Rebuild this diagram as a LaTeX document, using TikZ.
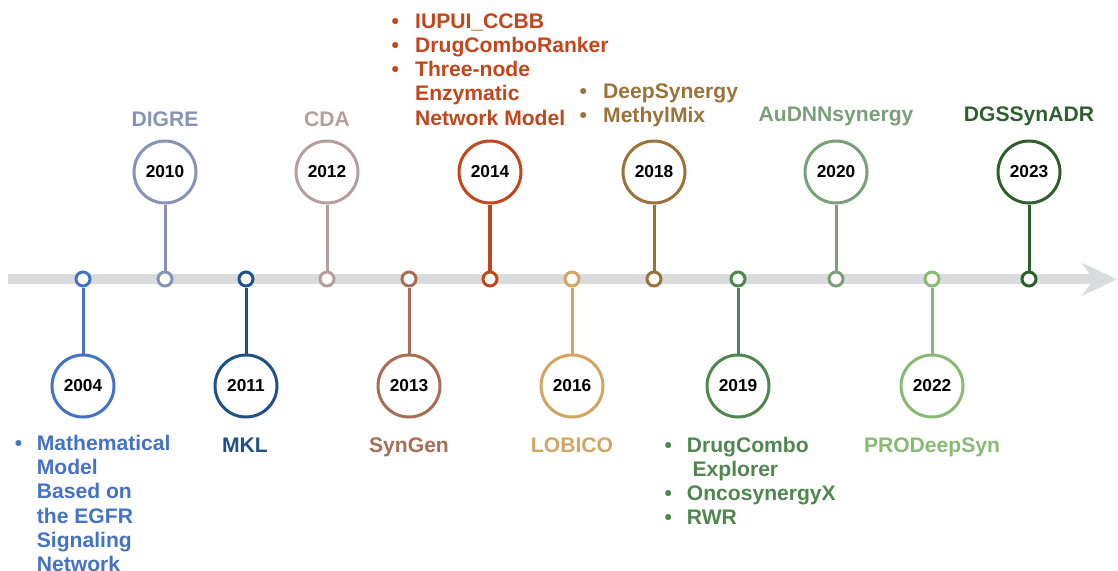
\documentclass[tikz,border=0pt]{standalone}
\usepackage{fontspec}
\setmainfont{Liberation Sans}
\definecolor{barcol}{HTML}{DADBDD}
\definecolor{cA}{HTML}{4472C4}% 2004
\definecolor{cB}{HTML}{8792B6}% 2010
\definecolor{cC}{HTML}{1F5188}% 2011
\definecolor{cD}{HTML}{B59E9E}% 2012
\definecolor{cE}{HTML}{A86E55}% 2013
\definecolor{cF}{HTML}{C2461C}% 2014
\definecolor{cG}{HTML}{D4A562}% 2016
\definecolor{cH}{HTML}{9B733A}% 2018
\definecolor{cI}{HTML}{4F874F}% 2019
\definecolor{cJ}{HTML}{7A9F79}% 2020
\definecolor{cK}{HTML}{88BA74}% 2022
\definecolor{cL}{HTML}{2F5F2F}% 2023
\newcommand{\lblfont}{\fontsize{21.1}{24.3}\selectfont\bfseries}
\newcommand{\lblfontb}{\fontsize{21.1}{24.1}\selectfont\bfseries}
\begin{document}
\begin{tikzpicture}[x=1pt,y=-1pt,
  yearbox/.style={circle,draw=#1,line width=3pt,fill=white,minimum size=62pt,inner sep=0pt,
    font=\fontsize{17.3}{20}\selectfont\bfseries,text=black},
  dotbox/.style={circle,draw=#1,line width=3pt,fill=white,minimum size=14pt,inner sep=0pt},
  stem/.style={draw=#1,line width=3pt},
  lbl/.style={inner sep=0pt,anchor=base,text=#1,font=\lblfont},
  lst/.style={inner sep=0pt,anchor=base west,text=#1,align=left}]
\useasboundingbox (0,0) rectangle (1118,570);
% timeline bar with chevron head
\fill[barcol] (8,274) rectangle (1094,284);
\fill[barcol] (1081.7,262.7) -- (1117,279.3) -- (1081.7,296) -- (1093.3,279.3) -- cycle;
% small dots on bar
\node[dotbox=cA] (s04) at (83,279) {};
\node[dotbox=cB] (s10) at (165,279) {};
\node[dotbox=cC] (s11) at (246,279) {};
\node[dotbox=cD] (s12) at (327,279) {};
\node[dotbox=cE] (s13) at (409,279) {};
\node[dotbox=cF] (s14) at (490,279) {};
\node[dotbox=cG] (s16) at (572,279) {};
\node[dotbox=cH] (s18) at (654,279) {};
\node[dotbox=cI] (s19) at (738,279) {};
\node[dotbox=cJ] (s20) at (836,279) {};
\node[dotbox=cK] (s22) at (932,279) {};
\node[dotbox=cL] (s23) at (1029,279) {};
% year circles
\node[yearbox=cA] (y04) at (83,386) {2004};
\node[yearbox=cB] (y10) at (165,172) {2010};
\node[yearbox=cC] (y11) at (246,386) {2011};
\node[yearbox=cD] (y12) at (327,172) {2012};
\node[yearbox=cE] (y13) at (409,386) {2013};
\node[yearbox=cF] (y14) at (490,172) {2014};
\node[yearbox=cG] (y16) at (572,386) {2016};
\node[yearbox=cH] (y18) at (654,172) {2018};
\node[yearbox=cI] (y19) at (738,386) {2019};
\node[yearbox=cJ] (y20) at (836,172) {2020};
\node[yearbox=cK] (y22) at (932,386) {2022};
\node[yearbox=cL] (y23) at (1029,172) {2023};
% stems
\path[stem=cA] (y04.north) -- (s04.south);
\path[stem=cB] (y10.south) -- (s10.north);
\path[stem=cC] (y11.north) -- (s11.south);
\path[stem=cD] (y12.south) -- (s12.north);
\path[stem=cE] (y13.north) -- (s13.south);
\path[stem=cF,line width=4pt] (y14.south) -- (s14.north);
\path[stem=cG] (y16.north) -- (s16.south);
\path[stem=cH] (y18.south) -- (s18.north);
\path[stem=cI] (y19.north) -- (s19.south);
\path[stem=cJ] (y20.south) -- (s20.north);
\path[stem=cK] (y22.north) -- (s22.south);
\path[stem=cL] (y23.south) -- (s23.north);
% single labels
\node[lbl=cB] (tDIGRE) at (165,126) {DIGRE};
\node[lbl=cD] (tCDA) at (327,126) {CDA};
\node[lbl=cJ] (tAuD) at (836,121.5) {AuDNNsynergy};
\node[lbl=cL] (tDGS) at (1029,121.5) {DGSSynADR};
\node[lbl=cC] (tMKL) at (245,452) {MKL};
\node[lbl=cE] (tSyn) at (409,452) {SynGen};
\node[lbl=cG] (tLOB) at (572,452) {LOBICO};
\node[lbl=cK] (tPRO) at (932,452) {PRODeepSyn};
% bullet lists
\node[lst=cF] (l14) at (391.3,28) {\lblfont\begin{tabular}[t]{@{}l@{\hspace{16.3pt}}l@{}}
\textbullet & IUPUI\_CCBB\\
\textbullet & DrugComboRanker\\
\textbullet & Three-node\\
 & Enzymatic\\
 & Network Model
\end{tabular}};
\node[lst=cH] (l18) at (579.3,98.3) {\lblfont\begin{tabular}[t]{@{}l@{\hspace{16.3pt}}l@{}}
\textbullet & DeepSynergy\\
\textbullet & MethylMix
\end{tabular}};
\node[lst=cA] (l04) at (14.6,450.7) {\lblfontb\begin{tabular}[t]{@{}l@{\hspace{14.7pt}}l@{}}
\textbullet & Mathematical\\
 & Model\\
 & Based on\\
 & the EGFR\\
 & Signaling\\
 & Network
\end{tabular}};
\node[lst=cI] (l19) at (664.3,452.3) {\lblfontb\begin{tabular}[t]{@{}l@{\hspace{15pt}}l@{}}
\textbullet & DrugCombo\\
 & \hspace{5.7pt}Explorer\\
\textbullet & OncosynergyX\\
\textbullet & RWR
\end{tabular}};
\end{tikzpicture}
\end{document}
